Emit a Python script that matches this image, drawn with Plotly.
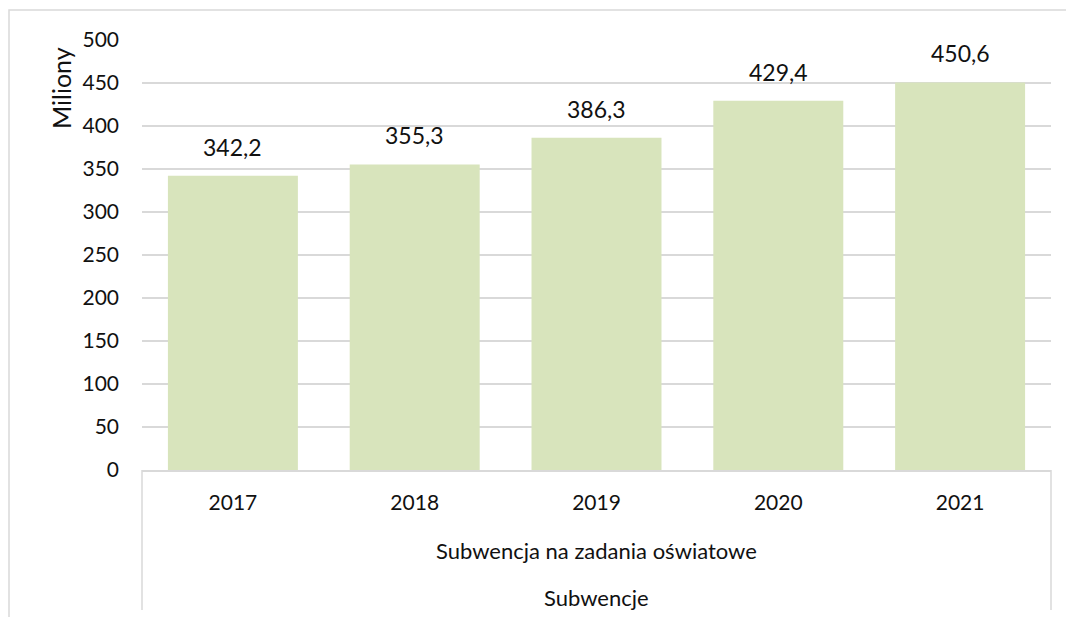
import plotly.graph_objects as go

years = ["2017", "2018", "2019", "2020", "2021"]
values = [342.2, 355.3, 386.3, 429.4, 450.6]
labels = ["342,2", "355,3", "386,3", "429,4", "450,6"]
group_label = "Subwencja na zadania oświatowe"
top_group_label = "Subwencje"
y_title = "Miliony"
y_ticks = [0, 50, 100, 150, 200, 250, 300, 350, 400, 450, 500]

FONT = "Lato, 'Open Sans', sans-serif"
TXT = "#111111"
GRID = "#D9D9D9"

W, H = 1066, 617
L, R, T, B = 142, 15, 40, 147
pw = W - L - R
ph = H - T - B

def px_x(x):
    return (x - L) / pw

def px_y(y):
    return (H - B - y) / ph

fig = go.Figure()
fig.add_trace(go.Bar(
    x=years, y=values,
    marker=dict(color="#D8E4BC", line=dict(width=0)),
    hoverinfo="skip",
))

for i, (v, lab) in enumerate(zip(values, labels)):
    fig.add_annotation(x=i, y=v, text=lab, showarrow=False,
                       yanchor="bottom", yshift=13,
                       font=dict(family=FONT, size=23, color=TXT))

fig.add_annotation(xref="paper", yref="paper", x=0.5, y=px_y(550),
                   text=group_label, showarrow=False, yanchor="middle",
                   font=dict(family=FONT, size=22, color=TXT))
fig.add_annotation(xref="paper", yref="paper", x=0.5, y=px_y(597),
                   text=top_group_label, showarrow=False, yanchor="middle",
                   font=dict(family=FONT, size=22, color=TXT))
fig.add_annotation(xref="paper", yref="paper", x=px_x(61), y=px_y(88),
                   text=y_title, showarrow=False, textangle=-90,
                   xanchor="center", yanchor="middle",
                   font=dict(family=FONT, size=25, color=TXT))

# category axis separators
for xp in (0, 1):
    fig.add_shape(type="line", xref="paper", yref="paper",
                  x0=xp, x1=xp, y0=0, y1=px_y(610),
                  line=dict(color=GRID, width=1.5))
# outer chart border
fig.add_shape(type="rect", xref="paper", yref="paper",
              x0=px_x(9), x1=px_x(1075), y0=px_y(630), y1=px_y(10),
              line=dict(color=GRID, width=1.5), fillcolor="rgba(0,0,0,0)",
              layer="below")

fig.update_layout(
    width=W, height=H,
    margin=dict(l=L, r=R, t=T, b=B),
    paper_bgcolor="white", plot_bgcolor="white",
    bargap=0.285,
    showlegend=False,
    font=dict(family=FONT, size=21, color=TXT),
    xaxis=dict(
        type="category", range=[-0.5, 4.5],
        showline=True, linecolor=GRID, linewidth=1.5,
        showgrid=False, ticks="",
        tickfont=dict(family=FONT, size=21, color=TXT),
        ticklabelstandoff=13,
    ),
    yaxis=dict(
        range=[0, 500], tickvals=y_ticks,
        showgrid=True, gridcolor=GRID, gridwidth=1.5,
        showline=False, zeroline=False, ticks="",
        tickfont=dict(family=FONT, size=21, color=TXT),
        ticklabelstandoff=22,
    ),
)

fig.write_html("out.html", config={"displayModeBar": False},
               post_script="document.body.style.margin='0';document.body.style.overflow='hidden';")
